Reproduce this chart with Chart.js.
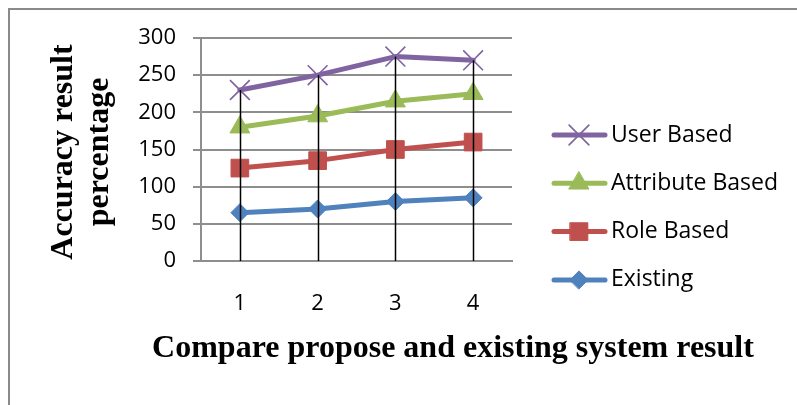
<!DOCTYPE html>
<html>
<head>
<meta charset="utf-8">
<script src="https://cdn.jsdelivr.net/npm/chart.js@4/dist/chart.umd.min.js"></script>
<style>
  html, body { margin: 0; padding: 0; background: #ffffff; }
  #wrap { width: 797px; height: 405px; }
</style>
</head>
<body>
<div id="wrap"><canvas id="c" width="797" height="405"></canvas></div>
<script>
const categories = ['1', '2', '3', '4'];
const existing = [65, 70, 80, 85];
const roleBased = [125, 135, 150, 160];
const attributeBased = [180, 195, 215, 225];
const userBased = [230, 250, 275, 270];
const yMin = 0, yMax = 300, yStep = 50;
const xTitle = 'Compare propose and existing system result';
const yTitle = ['Accuracy result', 'percentage'];

const TICK_FONT = { family: '"Open Sans", "Liberation Sans", sans-serif', size: 22 };
const TITLE_FONT = 'bold 32px "Liberation Serif", "DejaVu Serif", serif';
const GRID = '#8e8e8e';

const datasets = [
  { label: 'User Based', data: userBased, borderColor: '#8064A2', backgroundColor: '#8064A2',
    pointStyle: 'crossRot', pointRadius: 14, pointBorderWidth: 1.6, pointBorderColor: '#8064A2' },
  { label: 'Attribute Based', data: attributeBased, borderColor: '#9BBB59', backgroundColor: '#9BBB59',
    pointStyle: 'triangle', pointRadius: 11.5, pointBorderWidth: 1, pointBorderColor: '#9BBB59' },
  { label: 'Role Based', data: roleBased, borderColor: '#C0504D', backgroundColor: '#C0504D',
    pointStyle: 'rect', pointRadius: 12.5, pointBorderWidth: 1, pointBorderColor: '#C0504D' },
  { label: 'Existing', data: existing, borderColor: '#4F81BD', backgroundColor: '#4F81BD',
    pointStyle: 'rectRot', pointRadius: 9, pointBorderWidth: 1, pointBorderColor: '#4F81BD' }
];
datasets.forEach(d => { d.borderWidth = 5; d.fill = false; d.tension = 0; d.borderCapStyle = 'round'; d.borderJoinStyle = 'round'; d.pointHoverRadius = d.pointRadius; });

const dropLines = {
  id: 'dropLines',
  afterDatasetsDraw(chart) {
    const { ctx, scales: { x, y } } = chart;
    ctx.save();
    ctx.strokeStyle = '#000000';
    ctx.lineWidth = 1.5;
    categories.forEach((c, i) => {
      let top = -Infinity;
      chart.data.datasets.forEach(ds => { if (ds.data[i] > top) top = ds.data[i]; });
      const px = Math.round(x.getPixelForValue(i)) + 0.5;
      ctx.beginPath();
      ctx.moveTo(px, y.getPixelForValue(top));
      ctx.lineTo(px, y.getPixelForValue(yMin));
      ctx.stroke();
    });
    ctx.restore();
  }
};

const decorations = {
  id: 'decorations',
  beforeDraw(chart) {
    const ctx = chart.ctx;
    ctx.save();
    ctx.fillStyle = '#ffffff';
    ctx.fillRect(0, 0, chart.width, chart.height);
    ctx.restore();
  },
  afterDraw(chart) {
    const ctx = chart.ctx;
    ctx.save();
    // outer frame (top and left)
    ctx.strokeStyle = '#8a8a8a';
    ctx.lineWidth = 2;
    ctx.beginPath();
    ctx.moveTo(797, 9);
    ctx.lineTo(9, 9);
    ctx.lineTo(9, 405);
    ctx.stroke();
    // titles
    ctx.fillStyle = '#000000';
    ctx.font = TITLE_FONT;
    ctx.textAlign = 'center';
    ctx.textBaseline = 'alphabetic';
    ctx.fillText(xTitle, 453, 357);
    ctx.translate(0, 152);
    ctx.rotate(-Math.PI / 2);
    ctx.fillText(yTitle[0], 0, 72);
    ctx.fillText(yTitle[1], 0, 108);
    ctx.restore();

    // legend
    ctx.save();
    const startY = 135, gap = 48.3;
    chart.data.datasets.forEach((ds, i) => {
      const yy = startY + i * gap;
      ctx.strokeStyle = ds.borderColor;
      ctx.lineWidth = 5;
      ctx.lineCap = 'round';
      ctx.beginPath();
      ctx.moveTo(554, yy);
      ctx.lineTo(605, yy);
      ctx.stroke();
      ctx.fillStyle = ds.backgroundColor;
      ctx.strokeStyle = ds.pointBorderColor;
      ctx.lineWidth = ds.pointBorderWidth;
      Chart.helpers.drawPoint(ctx, { pointStyle: ds.pointStyle, radius: ds.pointRadius, rotation: 0, borderWidth: ds.pointBorderWidth }, 579, yy);
      ctx.fillStyle = '#000000';
      ctx.font = '23px "Open Sans", "Liberation Sans", sans-serif';
      ctx.textAlign = 'left';
      ctx.textBaseline = 'middle';
      ctx.fillText(ds.label, 611, yy);
    });
    ctx.restore();
  }
};

new Chart(document.getElementById('c'), {
  type: 'line',
  data: { labels: categories, datasets: datasets },
  options: {
    responsive: false,
    animation: false,
    events: [],
    layout: { padding: { top: 38, right: 285, left: 0, bottom: 0 } },
    plugins: { legend: { display: false }, tooltip: { enabled: false }, title: { display: false } },
    scales: {
      x: {
        type: 'category',
        offset: true,
        grid: { display: false, drawTicks: false },
        border: { display: true, color: GRID, width: 2 },
        ticks: { color: '#000000', font: TICK_FONT, padding: 30, maxRotation: 0 },
        afterFit(scale) { scale.height = 144; }
      },
      y: {
        min: yMin, max: yMax,
        grid: { color: GRID, lineWidth: 2, drawTicks: true, tickLength: 8, tickColor: GRID },
        border: { display: true, color: GRID, width: 2 },
        ticks: { stepSize: yStep, color: '#000000', font: TICK_FONT, padding: 17 },
        afterFit(scale) { scale.width = 201; }
      }
    }
  },
  plugins: [decorations, dropLines]
});
</script>
</body>
</html>
